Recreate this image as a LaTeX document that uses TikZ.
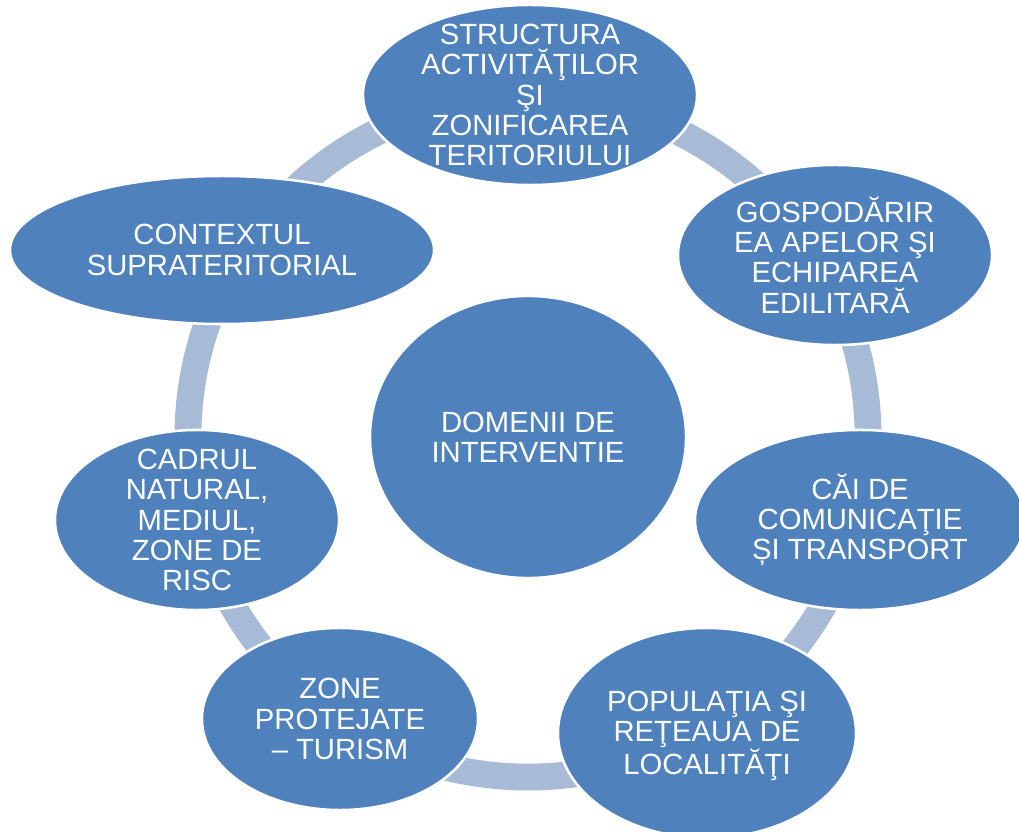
\documentclass[tikz,border=0pt]{standalone}
\usepackage{fontspec}
\setmainfont{Liberation Sans}
\usetikzlibrary{shapes.geometric}

\definecolor{areablue}{RGB}{79,129,189}
\definecolor{ringblue}{RGB}{167,186,214}

\begin{document}
\begin{tikzpicture}[x=0.025cm,y=-0.025cm,
	areabubble/.style={
		% The shape:
		ellipse,
		inner sep=0pt,
		% The border:
		draw=white,
		line width=1.8pt,
		% The filling:
		fill=areablue
		},
	caption/.style={
		% Font
		text=white,
		align=center,
		font=\fontsize{20.8}{21.5}\selectfont
		}]

	\useasboundingbox (0,0) rectangle (1019,832);

	% the ring behind the bubbles
	\draw[ringblue, line width=0.67cm] (528,437) circle [radius=8.5cm];

	\node (structura) [areabubble, minimum width=8.35cm, minimum height=4.5cm] at (530,95) {};
	\node (gospodarire) [areabubble, minimum width=7.85cm, minimum height=4.5cm] at (835,255) {};
	\node (cai) [areabubble, minimum width=8.25cm, minimum height=4.5cm] at (860,520) {};
	\node (populatia) [areabubble, minimum width=7.45cm, minimum height=5.25cm] at (707,733) {};
	\node (zone) [areabubble, minimum width=6.9cm, minimum height=4.55cm] at (340,719) {};
	\node (cadrul) [areabubble, minimum width=7.1cm, minimum height=4.5cm] at (197,520) {};
	\node (context) [areabubble, minimum width=10.6cm, minimum height=3.7cm] at (222,250) {};
	\node (domenii) [areabubble, minimum width=7.9cm, minimum height=7.05cm] at (528,437) {};

	\node [caption] at (structura) {STRUCTURA\\ACTIVITĂŢILOR\\ŞI\\ZONIFICAREA\\TERITORIULUI};
	\node [caption] at (gospodarire) {GOSPODĂRIR\\EA APELOR ŞI\\ECHIPAREA\\EDILITARĂ};
	\node [caption] at (cai) {CĂI DE\\COMUNICAŢIE\\ȘI TRANSPORT};
	\node [caption] at ([yshift=-2pt]populatia) {POPULAŢIA ŞI\\REŢEAUA DE\\LOCALITĂŢI};
	\node [caption] at (zone) {ZONE\\PROTEJATE\\– TURISM};
	\node [caption] at (cadrul) {CADRUL\\NATURAL,\\MEDIUL,\\ZONE DE\\RISC};
	\node [caption] at (context) {CONTEXTUL\\SUPRATERITORIAL};
	\node [caption] at (domenii) {DOMENII DE\\INTERVENTIE};

\end{tikzpicture}
\end{document}
